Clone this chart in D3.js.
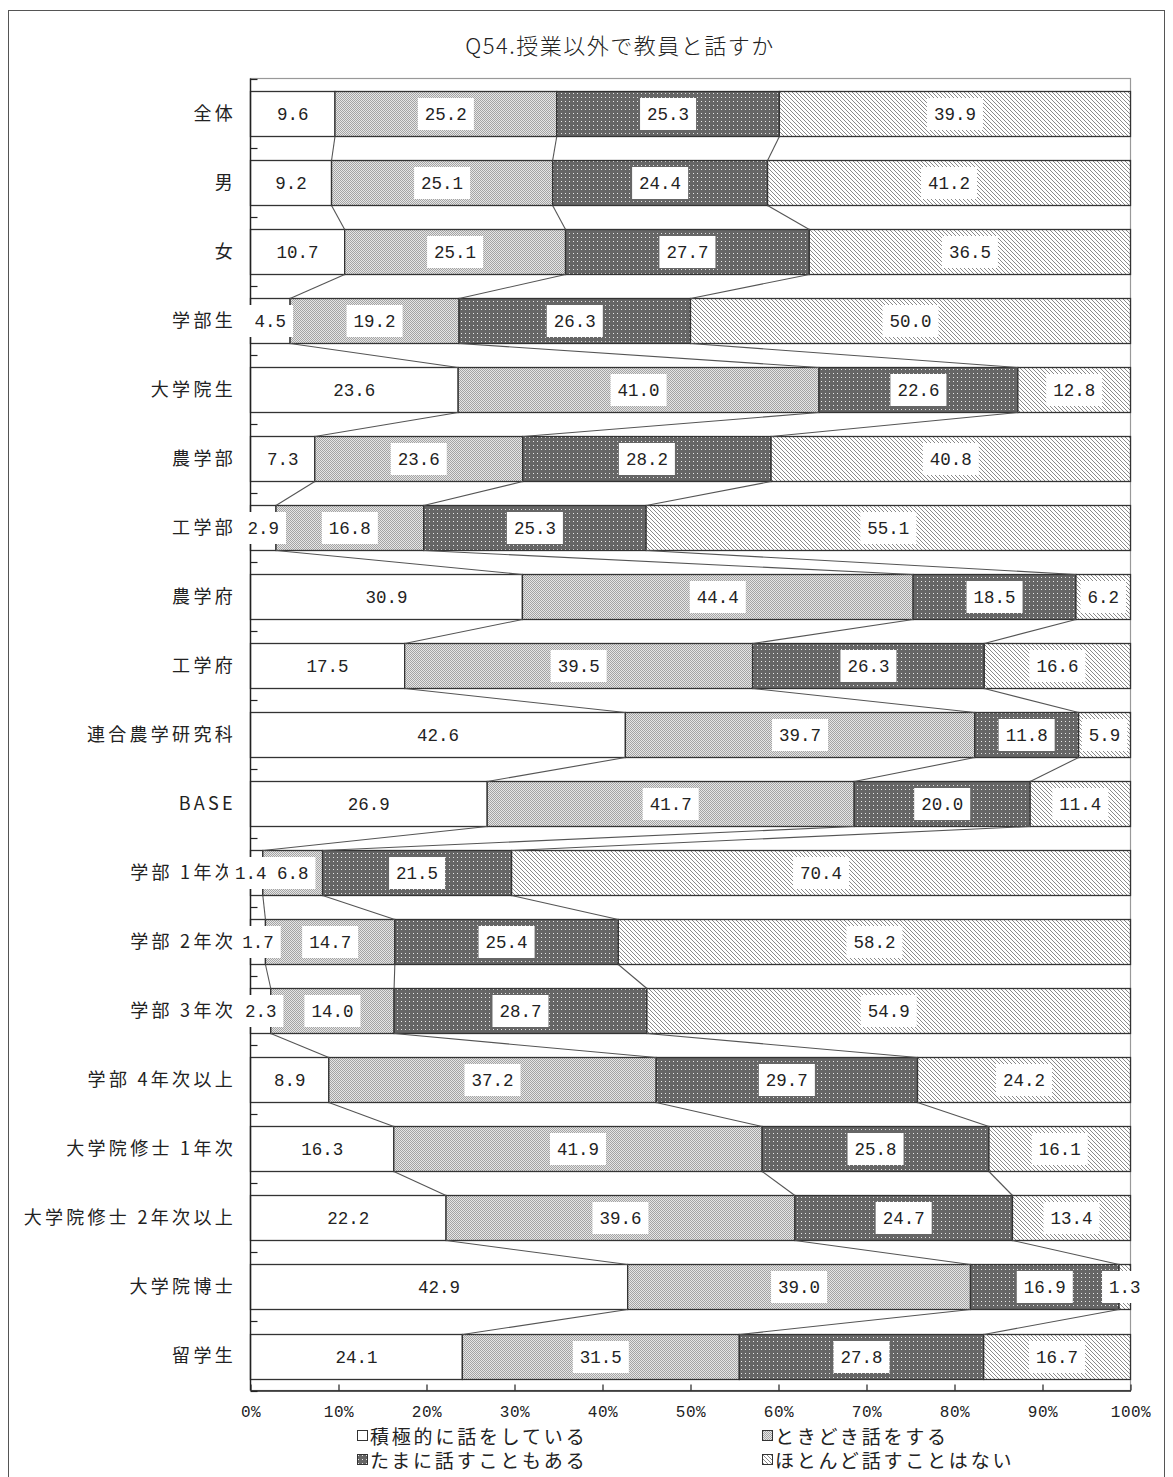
<!DOCTYPE html>
<html>
<head>
<meta charset="utf-8">
<script src="https://cdn.jsdelivr.net/npm/d3@7"></script>
<style>
  body { margin: 0; background: #fff; }
  svg { display: block; }
</style>
</head>
<body>
<div id="chart"></div>
<script>
// categories (rows, top to bottom)
var categories = ["全体", "男", "女", "学部生", "大学院生", "農学部", "工学部", "農学府", "工学府",
  "連合農学研究科", "BASE", "学部 1年次", "学部 2年次", "学部 3年次", "学部 4年次以上",
  "大学院修士 1年次", "大学院修士 2年次以上", "大学院博士", "留学生"];

var seriesNames = ["積極的に話をしている", "ときどき話をする", "たまに話すこともある", "ほとんど話すことはない"];

// values per series, same order as categories
var sekkyoku = [9.6, 9.2, 10.7, 4.5, 23.6, 7.3, 2.9, 30.9, 17.5, 42.6, 26.9, 1.4, 1.7, 2.3, 8.9, 16.3, 22.2, 42.9, 24.1];
var tokidoki = [25.2, 25.1, 25.1, 19.2, 41.0, 23.6, 16.8, 44.4, 39.5, 39.7, 41.7, 6.8, 14.7, 14.0, 37.2, 41.9, 39.6, 39.0, 31.5];
var tamani   = [25.3, 24.4, 27.7, 26.3, 22.6, 28.2, 25.3, 18.5, 26.3, 11.8, 20.0, 21.5, 25.4, 28.7, 29.7, 25.8, 24.7, 16.9, 27.8];
var hotondo  = [39.9, 41.2, 36.5, 50.0, 12.8, 40.8, 55.1, 6.2, 16.6, 5.9, 11.4, 70.4, 58.2, 54.9, 24.2, 16.1, 13.4, 1.3, 16.7];

var xTicks = [0, 0.1, 0.2, 0.3, 0.4, 0.5, 0.6, 0.7, 0.8, 0.9, 1.0];

var W = 1173, H = 1477;
var svg = d3.select("#chart").append("svg")
    .attr("width", W)
    .attr("height", H);

var defs = svg.append("defs");

// light gray dither
var p1 = defs.append("pattern").attr("id", "pLight")
    .attr("patternUnits", "userSpaceOnUse").attr("width", 2).attr("height", 2);
p1.append("rect").attr("width", 2).attr("height", 2).attr("fill", "#e6e6e6");
p1.append("rect").attr("x", 0).attr("y", 0).attr("width", 1).attr("height", 1).attr("fill", "#a4a4a4");
p1.append("rect").attr("x", 1).attr("y", 1).attr("width", 1).attr("height", 1).attr("fill", "#a4a4a4");

// dark gray with white dots
var p2 = defs.append("pattern").attr("id", "pDark")
    .attr("patternUnits", "userSpaceOnUse").attr("width", 4).attr("height", 4);
p2.append("rect").attr("width", 4).attr("height", 4).attr("fill", "#666");
p2.append("rect").attr("x", 1).attr("y", 1).attr("width", 1).attr("height", 1).attr("fill", "#e8e8e8");

// diagonal hatch
var p3 = defs.append("pattern").attr("id", "pHatch")
    .attr("patternUnits", "userSpaceOnUse").attr("width", 4).attr("height", 4);
p3.append("rect").attr("width", 4).attr("height", 4).attr("fill", "#fff");
p3.append("path").attr("d", "M-1,-1 L5,5 M-1,3 L1,5 M3,-1 L5,1")
    .attr("stroke", "#8a8a8a").attr("stroke-width", 1);

var fills = ["#ffffff", "url(#pLight)", "url(#pDark)", "url(#pHatch)"];

// outer frame
svg.append("rect")
    .attr("x", 8.5).attr("y", 10.5)
    .attr("width", 1156).attr("height", 1480)
    .attr("fill", "none")
    .attr("stroke", "#555")
    .attr("stroke-width", 1);

// title
svg.append("text")
    .attr("x", 620).attr("y", 54)
    .attr("text-anchor", "middle")
    .style("font-family", "'Noto Sans CJK JP'")
    .style("font-size", "22px")
    .style("font-weight", 300)
    .style("letter-spacing", "1.5px")
    .style("fill", "#222")
    .text("Q54.授業以外で教員と話すか");

var plotL = 250.5, plotR = 1130.5, plotT = 78.5, plotB = 1390.5;

var x = d3.scaleLinear().domain([0, 1]).range([plotL, plotR]);
var y = d3.scaleBand().domain(categories).range([plotT, plotB])
    .paddingInner(0.35).paddingOuter(0.175);

// plot area border
svg.append("rect")
    .attr("x", plotL).attr("y", plotT)
    .attr("width", plotR - plotL).attr("height", plotB - plotT)
    .attr("fill", "#fff")
    .attr("stroke", "#999")
    .attr("stroke-width", 1.2);

// build stacked rows (normalised like a 100% stacked chart)
var allSeries = [sekkyoku, tokidoki, tamani, hotondo];
var rows = categories.map(function(c, i) {
  var vals = allSeries.map(function(s) { return s[i]; });
  var total = d3.sum(vals);
  var acc = 0;
  var segs = vals.map(function(v, k) {
    var s = { cat: c, k: k, v: v, x0: acc / total, x1: (acc + v) / total };
    acc += v;
    return s;
  });
  return { cat: c, segs: segs };
});

var segData = [];
rows.forEach(function(r) { segData = segData.concat(r.segs); });

var bw = Math.round(y.bandwidth());
function rowTop(c) { return Math.round(y(c)) + 0.5; }

svg.append("g").selectAll("rect")
    .data(segData)
    .enter().append("rect")
    .attr("x", function(d) { return x(d.x0); })
    .attr("y", function(d) { return rowTop(d.cat); })
    .attr("width", function(d) { return x(d.x1) - x(d.x0); })
    .attr("height", bw)
    .attr("fill", function(d) { return fills[d.k]; })
    .attr("stroke", "#333")
    .attr("stroke-width", 1.3);

// series lines between neighbouring bars
var lineData = [];
for (var i = 0; i < rows.length - 1; i++) {
  for (var k = 0; k < 3; k++) {
    lineData.push({
      x1: x(rows[i].segs[k].x1), y1: rowTop(rows[i].cat) + bw,
      x2: x(rows[i + 1].segs[k].x1), y2: rowTop(rows[i + 1].cat)
    });
  }
}
svg.append("g").selectAll("line")
    .data(lineData)
    .enter().append("line")
    .attr("x1", function(d) { return d.x1; })
    .attr("y1", function(d) { return d.y1; })
    .attr("x2", function(d) { return d.x2; })
    .attr("y2", function(d) { return d.y2; })
    .attr("stroke", "#555")
    .attr("stroke-width", 1.1);

// left axis: line + inward ticks at band boundaries
var gl = svg.append("g");
gl.append("line")
    .attr("x1", plotL).attr("x2", plotL)
    .attr("y1", plotT).attr("y2", plotB)
    .attr("stroke", "#222").attr("stroke-width", 1.4);
var bounds = d3.range(categories.length + 1).map(function(k) { return Math.round(plotT + k * y.step()) + 0.5; });
gl.selectAll("line.tk")
    .data(bounds)
    .enter().append("line")
    .attr("class", "tk")
    .attr("x1", plotL).attr("x2", plotL + 7)
    .attr("y1", function(d) { return d; })
    .attr("y2", function(d) { return d; })
    .attr("stroke", "#222").attr("stroke-width", 1.2);

// category labels
svg.append("g").selectAll("text")
    .data(categories)
    .enter().append("text")
    .attr("x", 236)
    .attr("y", function(d) { return y(d) + y.bandwidth() / 2; })
    .attr("dy", "0.36em")
    .attr("text-anchor", "end")
    .style("font-family", "'Noto Sans CJK JP'")
    .style("font-size", "18px")
    .style("letter-spacing", "3.3px")
    .style("fill", "#222")
    .text(function(d) { return d; });

// bottom axis
var xAxis = d3.axisBottom(x)
    .tickValues(xTicks)
    .tickFormat(function(d) { return Math.round(d * 100) + "%"; })
    .tickSizeInner(-6)
    .tickSizeOuter(0)
    .tickPadding(15);
var gx = svg.append("g")
    .attr("transform", "translate(0," + plotB + ")")
    .call(xAxis);
gx.select(".domain").attr("stroke", "#222").attr("stroke-width", 1.4);
gx.selectAll(".tick line").attr("stroke", "#222").attr("stroke-width", 1.2);
gx.selectAll(".tick text")
    .style("font-family", "'Liberation Mono'")
    .style("font-size", "16px")
    .style("letter-spacing", "0.5px")
    .style("fill", "#222");

// value labels with white boxes
function labelX(d) {
  var cx = (x(d.x0) + x(d.x1)) / 2;
  // nudge a tiny first segment left so it does not touch its neighbour's label
  if (d.k === 0 && x(d.x1) - x(d.x0) < 14) cx -= 6;
  return cx;
}
var lg = svg.append("g").selectAll("g")
    .data(segData)
    .enter().append("g")
    .attr("transform", function(d) {
      return "translate(" + labelX(d) + "," + (rowTop(d.cat) + bw / 2) + ")";
    });
lg.append("rect").attr("fill", "#fff");
lg.append("text")
    .attr("text-anchor", "middle")
    .attr("dy", "0.36em")
    .style("font-family", "'Liberation Mono'")
    .style("font-size", "17.5px")
    .style("fill", "#222")
    .text(function(d) { return d.v.toFixed(1); });
lg.each(function() {
  var g = d3.select(this);
  var w = g.select("text").node().getComputedTextLength();
  g.select("rect")
    .attr("x", -w / 2 - 7).attr("y", -16)
    .attr("width", w + 14).attr("height", 32);
});

// legend
var legendPos = [[357, 1430], [762, 1430], [357, 1454], [762, 1454]];
var leg = svg.append("g").selectAll("g")
    .data(seriesNames)
    .enter().append("g")
    .attr("transform", function(d, i) { return "translate(" + legendPos[i][0] + "," + legendPos[i][1] + ")"; });
leg.append("rect")
    .attr("x", 0.5).attr("y", 0.5)
    .attr("width", 10).attr("height", 10)
    .attr("fill", function(d, i) { return fills[i]; })
    .attr("stroke", "#333");
leg.append("text")
    .attr("x", 13).attr("y", 14)
    .style("font-family", "'Noto Sans CJK JP'")
    .style("font-size", "19px")
    .style("letter-spacing", "2.8px")
    .style("fill", "#222")
    .text(function(d) { return d; });
</script>
</body>
</html>
